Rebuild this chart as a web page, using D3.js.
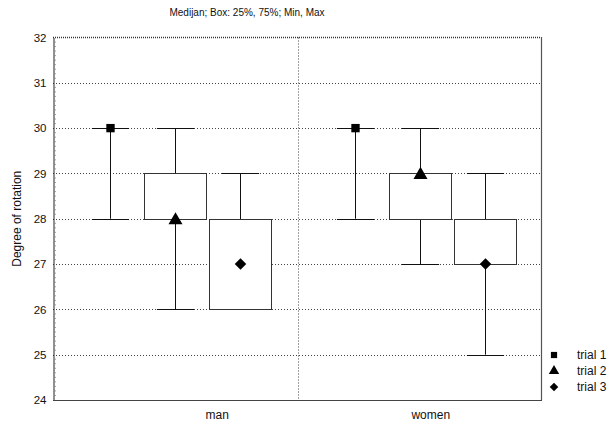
<!DOCTYPE html>
<html>
<head>
<meta charset="utf-8">
<script src="https://cdn.jsdelivr.net/npm/d3@7/dist/d3.min.js"></script>
<style>
  html, body { margin: 0; padding: 0; background: #fff; }
  svg { display: block; font-family: "Liberation Sans", Arial, sans-serif; }
</style>
</head>
<body>
<svg id="chart" width="616" height="427"></svg>
<script>
// Groups, trials and box-plot statistics (min, 25%, median, 75%, max)
const groups = ["man", "women"];
const trials = ["trial 1", "trial 2", "trial 3"];
const minVals    = [[28, 26, 26], [28, 27, 25]];
const q1Vals     = [[30, 28, 26], [30, 28, 27]];
const medianVals = [[30, 28, 27], [30, 29, 27]];
const q3Vals     = [[30, 29, 28], [30, 29, 28]];
const maxVals    = [[30, 30, 29], [30, 30, 29]];
const yTicks = [24, 25, 26, 27, 28, 29, 30, 31, 32];
const titleText = "Medijan; Box: 25%, 75%; Min, Max";
const yLabel = "Degree of rotation";

const svg = d3.select("#chart");
const plotLeft = 53, plotRight = 541, plotTop = 37.5, plotBottom = 400;

const y = d3.scaleLinear().domain([24, 32]).range([plotBottom, plotTop]);
const xGroup = d3.scaleBand().domain(groups).range([plotLeft, plotRight + 1]).padding(0);
const xTrial = d3.scaleBand().domain(trials).range([0, xGroup.bandwidth()])
  .paddingInner(0.05).paddingOuter(0.4);

// Horizontal dotted grid
svg.append("g").selectAll("line")
  .data(yTicks.filter(t => t > 24 && t < 32))
  .join("line")
  .attr("x1", plotLeft).attr("x2", plotRight)
  .attr("y1", d => Math.round(y(d)) + 0.5).attr("y2", d => Math.round(y(d)) + 0.5)
  .attr("stroke", "#444").attr("stroke-width", 1).attr("stroke-dasharray", "1,2");

// Dotted divider between groups
const divX = Math.round(xGroup("women")) + 0.5;
svg.append("line")
  .attr("x1", divX).attr("x2", divX).attr("y1", plotTop).attr("y2", plotBottom)
  .attr("stroke", "#444").attr("stroke-dasharray", "1,2");

// Top frame (dotted) and right frame
svg.append("line")
  .attr("x1", plotLeft).attr("x2", plotRight).attr("y1", plotTop).attr("y2", plotTop)
  .attr("stroke", "#333").attr("stroke-width", 1.5).attr("stroke-dasharray", "1,1");
svg.append("line")
  .attr("x1", plotRight + 0.5).attr("x2", plotRight + 0.5).attr("y1", plotTop - 0.5).attr("y2", plotBottom)
  .attr("stroke", "#555").attr("stroke-width", 1.2);

// Y axis with minor inner ticks
const yAxis = d3.axisLeft(y).tickValues(yTicks).tickSize(0).tickPadding(7).tickFormat(d3.format("d"));
const yg = svg.append("g").attr("transform", `translate(${plotLeft + 0.5},0)`).call(yAxis);
yg.select(".domain").attr("stroke", "#222");
yg.selectAll("text").attr("font-size", 11.5).attr("fill", "#111");
svg.append("g").selectAll("line")
  .data(d3.range(240, 321, 1).map(v => v / 10).filter(v => Math.abs(v % 1) > 1e-6))
  .join("line")
  .attr("x1", plotLeft + 1).attr("x2", plotLeft + 3)
  .attr("y1", d => y(d)).attr("y2", d => y(d))
  .attr("stroke", "#888").attr("stroke-width", 0.8);

// X axis
const xg = svg.append("g").attr("transform", `translate(0,${plotBottom + 0.5})`);
xg.append("line").attr("x1", plotLeft).attr("x2", plotRight + 1).attr("stroke", "#444").attr("stroke-width", 1.2);
const labelShift = [42, 11];
xg.selectAll("text").data(groups).join("text")
  .attr("x", (d, i) => xGroup(d) + xGroup.bandwidth() / 2 + labelShift[i])
  .attr("y", 18).attr("text-anchor", "middle").attr("font-size", 12).attr("fill", "#111")
  .text(d => d);

// Box plots
const symbols = [d3.symbolSquare, d3.symbolTriangle, d3.symbolDiamond2];
const symbolSizes = [70, 85, 85];
groups.forEach((g, gi) => {
  trials.forEach((t, ti) => {
    const x0 = xGroup(g) + xTrial(t);
    const w = xTrial.bandwidth();
    const cx = Math.round(x0 + w / 2) + 0.5;
    const capW = w * 0.6;
    const gEl = svg.append("g");
    // whisker
    gEl.append("line").attr("x1", cx).attr("x2", cx)
      .attr("y1", y(maxVals[gi][ti])).attr("y2", y(minVals[gi][ti]))
      .attr("stroke", "#111");
    // caps
    [minVals[gi][ti], maxVals[gi][ti]].forEach(v => {
      gEl.append("line").attr("x1", cx - capW / 2).attr("x2", cx + capW / 2)
        .attr("y1", Math.round(y(v)) + 0.5).attr("y2", Math.round(y(v)) + 0.5)
        .attr("stroke", "#111");
    });
    // box
    const yTop = Math.round(y(q3Vals[gi][ti])) + 0.5;
    const yBot = Math.round(y(q1Vals[gi][ti])) + 0.5;
    gEl.append("rect")
      .attr("x", Math.round(x0) + 0.5).attr("y", yTop)
      .attr("width", Math.round(w)).attr("height", yBot - yTop)
      .attr("fill", "#fff").attr("stroke", "#333").attr("stroke-width", 1);
    // median marker
    gEl.append("path")
      .attr("d", d3.symbol().type(symbols[ti]).size(symbolSizes[ti])())
      .attr("transform", `translate(${cx},${y(medianVals[gi][ti]) + (ti === 1 ? 1.5 : 0)})`)
      .attr("fill", "#000");
  });
});

// Title and y label
svg.append("text").attr("x", 247).attr("y", 16).attr("text-anchor", "middle")
  .attr("font-size", 10).attr("fill", "#111").text(titleText);
svg.append("text").attr("transform", `translate(21,${(plotTop + plotBottom) / 2}) rotate(-90)`)
  .attr("text-anchor", "middle").attr("font-size", 12).attr("fill", "#111").text(yLabel);

// Legend
const lg = svg.append("g");
trials.forEach((t, i) => {
  const ly = 355 + i * 16;
  lg.append("path").attr("d", d3.symbol().type(symbols[i]).size(symbolSizes[i] * 0.55)())
    .attr("transform", `translate(554,${ly})`).attr("fill", "#000");
  lg.append("text").attr("x", 577).attr("y", ly + 4).attr("font-size", 12).attr("fill", "#111").text(t);
});
</script>
</body>
</html>
